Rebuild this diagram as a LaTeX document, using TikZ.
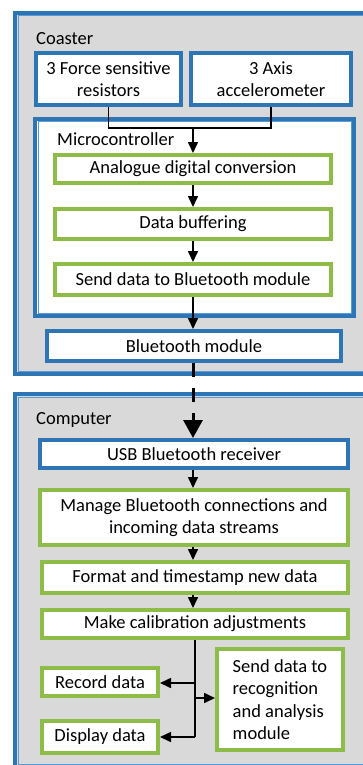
\documentclass[tikz,border=0pt]{standalone}
\usepackage{fontspec}
\setmainfont{Carlito}
\usetikzlibrary{arrows.meta}
\definecolor{bblue}{RGB}{46,117,182}
\definecolor{lblue}{RGB}{91,155,213}
\definecolor{bgreen}{RGB}{141,188,72}
\definecolor{bgrey}{RGB}{217,217,217}
\tikzset{
  txt/.style={font=\fontsize{18.5}{22.5}\selectfont},
  bluebox/.style={draw=bblue, line width=4pt, fill=white, inner sep=0pt, align=center, txt},
  greenbox/.style={draw=bgreen, line width=4pt, fill=white, inner sep=0pt, align=center, txt},
  container/.style={draw=bblue, line width=4pt, inner sep=0pt},
  innerline/.style={draw=lblue, line width=1pt},
  lbl/.style={anchor=base west, inner sep=0pt, txt},
  arr/.style={line width=1.6pt, -{Triangle[width=10pt,length=11pt]}},
  plain/.style={line width=1.6pt},
}
\begin{document}
\begin{tikzpicture}[x=1pt,y=-1pt]
\useasboundingbox (0,0) rectangle (363,765);
% containers
\node[container, fill=bgrey, minimum width=360pt, minimum height=361pt] (coaster) at (195,193.5) {};
\draw[innerline] ([xshift=5pt,yshift=-5pt]coaster.north west) rectangle ([xshift=-5pt,yshift=5pt]coaster.south east);
\node[container, fill=white, minimum width=319pt, minimum height=197pt] (micro) at (194.5,217.5) {};
\draw[innerline] ([xshift=5pt,yshift=-5pt]micro.north west) rectangle ([xshift=-5pt,yshift=5pt]micro.south east);
\node[container, fill=bgrey, minimum width=360pt, minimum height=373pt] (computer) at (195,580.5) {};
\draw[innerline] ([xshift=5pt,yshift=-5pt]computer.north west) rectangle ([xshift=-5pt,yshift=5pt]computer.south east);
% labels
\node[lbl] (coasterlbl) at (36,45) {Coaster};
\node[lbl] (microlbl) at (57,146) {Microcontroller};
\node[lbl] (computerlbl) at (36,424) {Computer};
% coaster boxes
\node[bluebox, minimum width=145pt, minimum height=52pt] (force) at (108.5,79) {3 Force sensitive\\resistors};
\node[bluebox, minimum width=160pt, minimum height=52pt] (accel) at (271,79) {3 Axis\\accelerometer};
\node[greenbox, minimum width=276pt, minimum height=28pt] (adc) at (193,169) {Analogue digital conversion};
\node[greenbox, minimum width=276pt, minimum height=30pt] (buf) at (193,224) {Data buffering};
\node[greenbox, minimum width=276pt, minimum height=31pt] (send) at (193,279.5) {Send data to Bluetooth module};
\node[bluebox, minimum width=294pt, minimum height=30pt] (bt) at (194,346) {Bluetooth module};
% computer boxes
\node[bluebox, minimum width=308pt, minimum height=28pt] (usb) at (194,454) {USB Bluetooth receiver};
\node[greenbox, minimum width=308pt, minimum height=55pt] (manage) at (194,517.5) {Manage Bluetooth connections and\\incoming data streams};
\node[greenbox, minimum width=306pt, minimum height=31pt] (format) at (195,577.5) {Format and timestamp new data};
\node[greenbox, minimum width=306pt, minimum height=28pt] (calib) at (195,624) {Make calibration adjustments};
\node[greenbox, minimum width=116pt, minimum height=28pt] (record) at (100,682) {Record data};
\node[greenbox, minimum width=116pt, minimum height=32pt] (display) at (100,737) {Display data};
\node[greenbox, minimum width=126pt, minimum height=101pt, align=left] (recog) at (280,699.5) {Send data to\\recognition\\and analysis\\module};
% connectors
\coordinate (join) at (193,128);
\draw[plain] (force.south) |- (join);
\draw[plain] (accel.south) |- (join);
\draw[arr] (join) -- (adc.north -| join);
\draw[arr] (adc.south -| join) -- (buf.north -| join);
\draw[arr] (buf.south -| join) -- (send.north -| join);
\draw[arr] (send.south -| join) -- (bt.north -| join);
\draw[line width=3pt, dash pattern=on 14pt off 11pt, -{Triangle[width=19pt,length=18pt]}] (bt.south -| join) -- (usb.north -| join);
\draw[arr] (usb.south -| join) -- (manage.north -| join);
\draw[arr] (manage.south -| join) -- (format.north -| join);
\draw[arr] (format.south -| join) -- (calib.north -| join);
\coordinate (trunk) at (195,737);
\draw[plain] (calib.south -| trunk) -- (trunk);
\coordinate (rj) at (195,683);
\coordinate (sj) at (195,698);
\draw[arr] (rj) -- (record.east |- rj);
\draw[arr] (sj) -- (recog.west |- sj);
\draw[arr] (trunk) -- (display.east |- trunk);
\end{tikzpicture}
\end{document}
